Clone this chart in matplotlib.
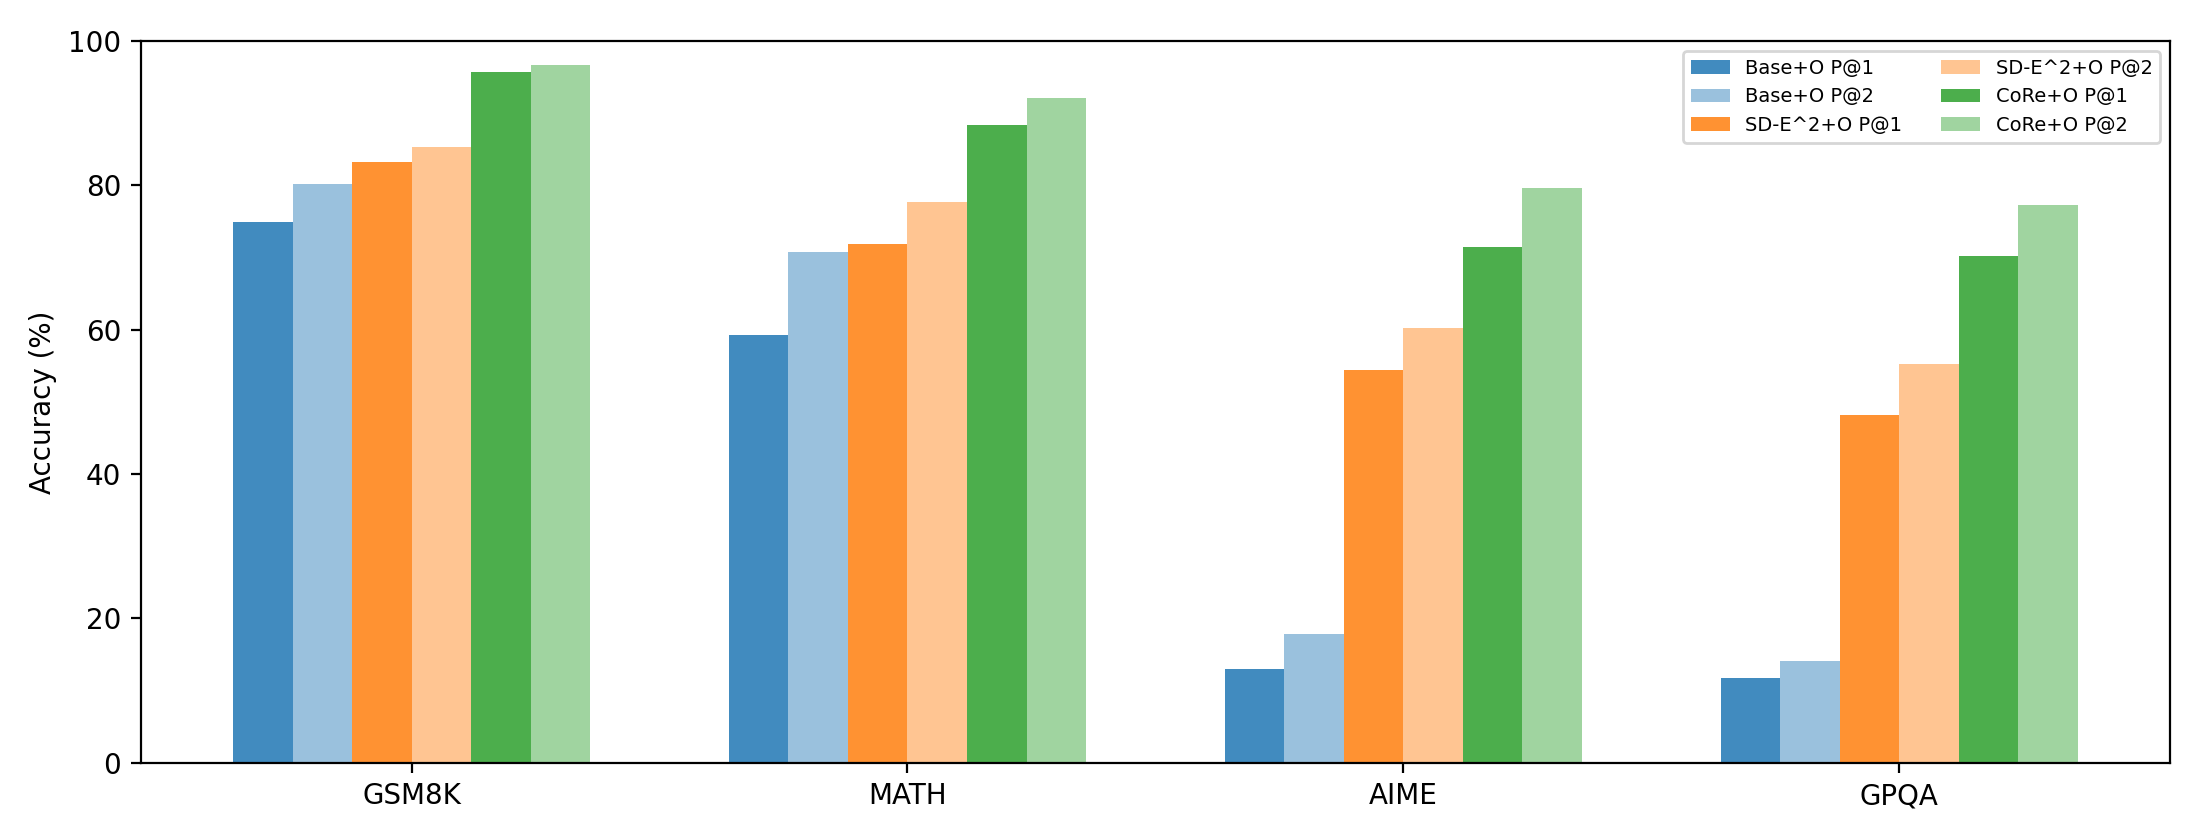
import numpy as np
from matplotlib import pyplot as plt

benchmarks = ['GSM8K', 'MATH', 'AIME', 'GPQA']

base_p1 = [75.0, 59.3, 13.0, 11.8]
base_p2 = [80.2, 70.8, 17.9, 14.1]
sde2_p1 = [83.2, 71.9, 54.4, 48.2]
sde2_p2 = [85.4, 77.7, 60.2, 55.2]
core_p1 = [95.7, 88.4, 71.5, 70.2]
core_p2 = [96.7, 92.1, 79.6, 77.3]

series = [
    ('Base+O P@1', base_p1, '#1f77b4', 0.85),
    ('Base+O P@2', base_p2, '#1f77b4', 0.45),
    ('SD-E^2+O P@1', sde2_p1, '#ff7f0e', 0.85),
    ('SD-E^2+O P@2', sde2_p2, '#ff7f0e', 0.45),
    ('CoRe+O P@1', core_p1, '#2ca02c', 0.85),
    ('CoRe+O P@2', core_p2, '#2ca02c', 0.45),
]

x = np.arange(len(benchmarks))
width = 0.12

fig, ax = plt.subplots(figsize=(11, 4.2), dpi=200)
for i, (label, vals, color, alpha) in enumerate(series):
    offset = (i - 2.5) * width
    ax.bar(x + offset, vals, width, label=label, color=color, alpha=alpha)

ax.set_xticks(x)
ax.set_xticklabels(benchmarks)
ax.set_ylabel('Accuracy (%)')
ax.set_ylim(0, 100)
ax.legend(ncol=2, loc='upper right', fontsize=7)

plt.subplots_adjust(left=0.064, right=0.9864, bottom=0.092, top=0.951)
plt.savefig('out.png')
